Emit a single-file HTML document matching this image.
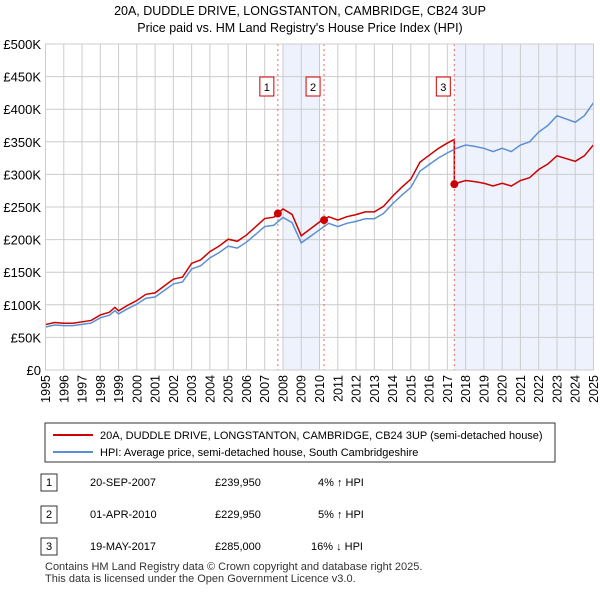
<!DOCTYPE html>
<html><head><meta charset="utf-8"><style>
body{margin:0;background:#fff;font-family:"Liberation Sans",sans-serif;}
svg text{font-family:"Liberation Sans",sans-serif;}
</style></head><body>
<svg id="c" width="600" height="590" xmlns="http://www.w3.org/2000/svg">
<text x="300" y="15" text-anchor="middle" font-size="12.5">20A, DUDDLE DRIVE, LONGSTANTON, CAMBRIDGE, CB24 3UP</text>
<text x="300" y="32" text-anchor="middle" font-size="12.5">Price paid vs. HM Land Registry's House Price Index (HPI)</text>
<g id="plot"></g>
<rect x="45" y="423" width="510" height="39" fill="#fff" stroke="#333"/>
<line x1="53" y1="435" x2="93" y2="435" stroke="#cc0000" stroke-width="2"/>
<text x="100" y="439" font-size="11">20A, DUDDLE DRIVE, LONGSTANTON, CAMBRIDGE, CB24 3UP (semi-detached house)</text>
<line x1="53" y1="452" x2="93" y2="452" stroke="#5b8fd4" stroke-width="2"/>
<text x="100" y="456" font-size="11">HPI: Average price, semi-detached house, South Cambridgeshire</text>
<g font-size="11">
<rect x="41" y="474" width="16" height="17" fill="#fff" stroke="#333"/><text x="49" y="486" text-anchor="middle">1</text>
<text x="90" y="486">20-SEP-2007</text><text x="215" y="486">£239,950</text><text x="318" y="486">4% ↑ HPI</text>
<rect x="41" y="506" width="16" height="17" fill="#fff" stroke="#333"/><text x="49" y="518" text-anchor="middle">2</text>
<text x="90" y="518">01-APR-2010</text><text x="215" y="518">£229,950</text><text x="318" y="518">5% ↑ HPI</text>
<rect x="41" y="538" width="16" height="17" fill="#fff" stroke="#333"/><text x="49" y="550" text-anchor="middle">3</text>
<text x="90" y="550">19-MAY-2017</text><text x="215" y="550">£285,000</text><text x="311" y="550">16% ↓ HPI</text>
</g>
<text x="45" y="570" font-size="11" fill="#333">Contains HM Land Registry data © Crown copyright and database right 2025.</text>
<text x="45" y="582" font-size="11" fill="#333">This data is licensed under the Open Government Licence v3.0.</text>
</svg>
<script>
const hpiYears=[1995,1995.5,1996,1996.5,1997,1997.5,1998,1998.5,1998.8,1999,1999.5,2000,2000.5,2001,2001.5,2002,2002.5,2003,2003.5,2004,2004.5,2005,2005.5,2006,2006.5,2007,2007.5,2008,2008.5,2009,2009.5,2010,2010.5,2011,2011.5,2012,2012.5,2013,2013.5,2014,2014.5,2015,2015.5,2016,2016.5,2017,2017.5,2018,2018.5,2019,2019.5,2020,2020.5,2021,2021.5,2022,2022.5,2023,2023.5,2024,2024.5,2025];
const hpiValues=[66,69,68,68,70,72,80,84,91,86,94,101,110,112,122,132,135,155,160,172,180,190,187,196,208,220,222,234,226,195,205,215,225,220,225,228,232,232,240,255,268,280,305,315,325,333,340,345,343,340,335,340,335,345,350,365,375,390,385,380,390,410];
const saleYears=[2007.72,2010.25,2017.38];
const salePrices=[239.95,229.95,285];
const saleLabels=["1","2","3"];
const yTicks=[0,50,100,150,200,250,300,350,400,450,500];
const yTickLabels=["£0","£50K","£100K","£150K","£200K","£250K","£300K","£350K","£400K","£450K","£500K"];
const xTicks=[1995,1996,1997,1998,1999,2000,2001,2002,2003,2004,2005,2006,2007,2008,2009,2010,2011,2012,2013,2014,2015,2016,2017,2018,2019,2020,2021,2022,2023,2024,2025];
const X0=45.5,X1=593.5,Y0=370,Y1=44;
const xs=t=>X0+(t-1995)/30*(X1-X0);
const ys=v=>Y0-v/500*(Y0-Y1);
const NS="http://www.w3.org/2000/svg";
const g=document.getElementById('plot');
function mk(tag,attrs){const e=document.createElementNS(NS,tag);for(const k in attrs)e.setAttribute(k,attrs[k]);g.appendChild(e);return e;}
let e=mk('rect',{x:X0,y:Y1,width:X1-X0,height:Y0-Y1,fill:'#fff'});


e=mk('rect',{x:xs(2008),y:Y1,width:xs(2010)-xs(2008),height:Y0-Y1,fill:'#eef2fc'});


e=mk('rect',{x:xs(saleYears[2]),y:Y1,width:X1-xs(saleYears[2]),height:Y0-Y1,fill:'#eef2fc'});


yTicks.forEach((v,i)=>{
 e=mk('line',{x1:X0,x2:X1,y1:ys(v),y2:ys(v),stroke:'#ccc'});
 
 
 e=mk('text',{x:41,y:ys(v)+5,'text-anchor':'end','font-size':13});
 e.textContent=yTickLabels[i];
 
 
});
xTicks.forEach(t=>{
 e=mk('line',{x1:xs(t),x2:xs(t),y1:Y1,y2:Y0,stroke:'#ccc'});
 
 
 e=mk('text',{x:0,y:0,'text-anchor':'end','font-size':12.5,transform:'translate('+(xs(t)+4.5)+',375) rotate(-90)'});
 e.textContent=t;
 
 
});
function hpiAt(t){for(let i=0;i<hpiYears.length-1;i++){if(t<=hpiYears[i+1]){const f=(t-hpiYears[i])/(hpiYears[i+1]-hpiYears[i]);return hpiValues[i]+f*(hpiValues[i+1]-hpiValues[i]);}}return hpiValues[hpiValues.length-1];}
const ratios=saleYears.map((t,i)=>salePrices[i]/hpiAt(t));
function ratioAt(t){let r=ratios[0];for(let i=0;i<saleYears.length;i++)if(t>=saleYears[i])r=ratios[i];return r;}
const allT=[...hpiYears,...saleYears,...saleYears.map(t=>t-0.001)].sort((a,b)=>a-b);
e=mk('polyline',{points:hpiYears.map((t,i)=>xs(t)+','+ys(hpiValues[i])).join(' '),fill:'none',stroke:'#5b8fd4','stroke-width':1.5});


e=mk('polyline',{points:allT.map(t=>xs(t)+','+ys(hpiAt(t)*ratioAt(t))).join(' '),fill:'none',stroke:'#cc0000','stroke-width':1.5});


saleYears.forEach((t,i)=>{
 e=mk('line',{x1:xs(t),x2:xs(t),y1:Y1,y2:Y0,stroke:'#e66','stroke-dasharray':'2,3'});
 
 
 e=mk('circle',{cx:xs(t),cy:ys(salePrices[i]),r:4,fill:'#cc0000'});
 
 
 e=mk('rect',{x:xs(t)-18,y:77,width:14,height:19,fill:'#fff',stroke:'#cc0000'});
 
 
 e=mk('text',{x:xs(t)-11,y:91,'text-anchor':'middle','font-size':11});
 e.textContent=saleLabels[i];
 
 
});
e=mk('rect',{x:X0,y:Y1,width:X1-X0,height:Y0-Y1,fill:'none',stroke:'#ccc'});


</script>
</body></html>
